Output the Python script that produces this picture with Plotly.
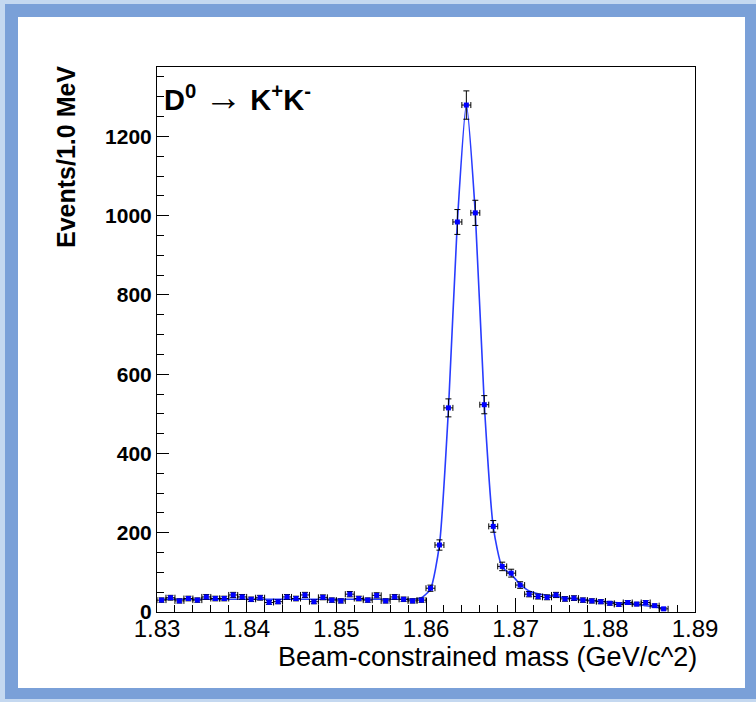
import plotly.graph_objects as go

# ---- data ----
bin_centers = [round(1.8305 + 0.001 * i, 4) for i in range(57)]
counts = [30, 36, 28, 34, 30, 38, 34, 34, 43, 38, 32, 36, 24, 26, 38,
          34, 43, 26, 37, 30, 28, 45, 34, 30, 42, 28, 38, 32, 28, 30,
          60, 169, 515, 984, 1279, 1007, 523, 216, 115, 98, 68,
          45, 39, 37, 43, 33, 35, 30, 28, 26, 22, 19, 24, 20, 24, 16, 8]
fit_values = [32] * 29 + [36, 58, 170, 510, 985, 1280, 1005, 525, 215,
                          113, 95, 70, 53, 46, 42, 39, 36, 33, 31, 29,
                          27, 25, 23, 21, 19, 16, 13, 9]
x_ticks = [1.83, 1.84, 1.85, 1.86, 1.87, 1.88, 1.89]
x_ticktext = ["1.83", "1.84", "1.85", "1.86", "1.87", "1.88", "1.89"]
y_ticks = [0, 200, 400, 600, 800, 1000, 1200]
half_bin = 0.0005

W, H = 756, 702
L, R, T, B = 157, 695, 67, 612


def px(xp):
    return (xp - L) / (R - L)


def py(yp):
    return (B - yp) / (B - T)


fig = go.Figure()

fig.add_trace(go.Scatter(
    x=bin_centers, y=fit_values, mode="lines",
    line=dict(color="rgb(40,60,255)", width=1.6, shape="spline", smoothing=0.6),
    hoverinfo="skip", showlegend=False))

fig.add_trace(go.Scatter(
    x=bin_centers, y=counts, mode="markers",
    marker=dict(symbol="square", color="#0000ff", size=5),
    error_y=dict(type="sqrt", color="black", thickness=1, width=3),
    error_x=dict(type="constant", value=half_bin, color="black", thickness=1, width=3),
    showlegend=False))

shapes = [
    dict(type="rect", xref="paper", yref="paper", layer="below",
         x0=px(5), x1=px(W + 5), y0=py(4), y1=py(699),
         fillcolor="#7aa0d8", line=dict(width=0)),
    dict(type="rect", xref="paper", yref="paper", layer="below",
         x0=px(18), x1=px(745), y0=py(17), y1=py(688),
         fillcolor="white", line=dict(width=0)),
]

annotations = [
    dict(text="<b>D<sup>0</sup></b> <span style='font-size:38px'>→</span> <b>K<sup>+</sup>K<sup>-</sup></b>",
         x=px(162), y=py(97), xref="paper", yref="paper",
         xanchor="left", yanchor="middle", showarrow=False,
         font=dict(family="Liberation Sans", size=29, color="black")),
    dict(text="Beam-constrained mass (GeV/c^2)",
         x=px(699), y=py(657), xref="paper", yref="paper",
         xanchor="right", yanchor="middle", showarrow=False,
         font=dict(family="Liberation Sans", size=27, color="black")),
    dict(text="<b>Events/1.0 MeV</b>", textangle=-90,
         x=px(66), y=py(64), xref="paper", yref="paper",
         xanchor="center", yanchor="top", showarrow=False,
         font=dict(family="Liberation Sans", size=25, color="black")),
]

fig.update_layout(
    width=W, height=H,
    margin=dict(l=L, r=W - R, t=T, b=H - B, pad=0),
    paper_bgcolor="#c4d8f0", plot_bgcolor="white",
    shapes=shapes, annotations=annotations,
    xaxis=dict(range=[1.83 - 1e-6, 1.89 + 1e-6], tickmode="array",
               tickvals=x_ticks, ticktext=x_ticktext,
               ticks="inside", ticklen=14, tickcolor="black", tickwidth=1,
               ticklabelstandoff=-5,
               minor=dict(dtick=0.002, tick0=1.83, ticks="inside", ticklen=7,
                          tickcolor="black", tickwidth=1, showgrid=False),
               showline=True, linecolor="black", linewidth=1, mirror=True,
               showgrid=False, zeroline=False,
               tickfont=dict(family="Liberation Sans", size=24, color="black")),
    yaxis=dict(range=[0, 1375], tickmode="array", tickvals=y_ticks,
               ticks="inside", ticklen=12, tickcolor="black", tickwidth=1,
               minor=dict(dtick=50, tick0=0, ticks="inside", ticklen=7,
                          tickcolor="black", tickwidth=1, showgrid=False),
               showline=True, linecolor="black", linewidth=1, mirror=True,
               showgrid=False, zeroline=False,
               tickfont=dict(family="Liberation Sans", size=21, color="black",
                             weight="bold")),
)

fig.write_html("out.html")
